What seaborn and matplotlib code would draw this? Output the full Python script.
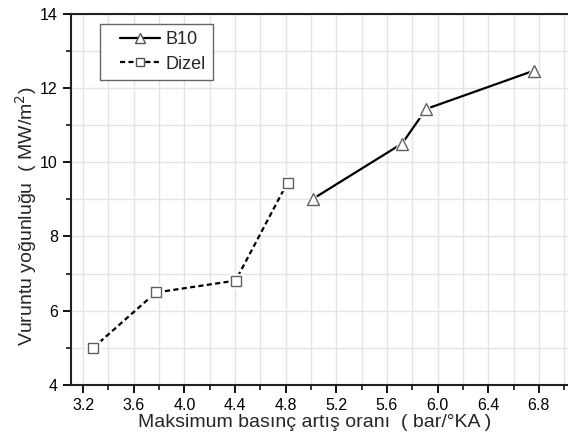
import matplotlib
matplotlib.use("Agg")
import matplotlib.pyplot as plt
import seaborn as sns
import pandas as pd
from matplotlib.ticker import MultipleLocator
from matplotlib.lines import Line2D
from matplotlib.legend_handler import HandlerLine2D

b10_x = [5.02, 5.72, 5.91, 6.76]
b10_y = [9.02, 10.50, 11.43, 12.46]
dizel_x = [3.28, 3.775, 4.405, 4.815]
dizel_y = [5.00, 6.49, 6.81, 9.45]

sns.set_theme(style="ticks")
plt.rcParams['font.family'] = ['Liberation Sans', 'DejaVu Sans']

fig = plt.figure(figsize=(5.68, 4.36), dpi=100)
ax = fig.add_axes([0.125, 0.117, 0.875, 0.852])

df_b = pd.DataFrame({"x": b10_x, "y": b10_y})
df_d = pd.DataFrame({"x": dizel_x, "y": dizel_y})

LW = 1.6
DASH = (0, (2.3, 1.5))
sns.lineplot(data=df_b, x="x", y="y", ax=ax, color="black", lw=LW, sort=False, zorder=3)
sns.lineplot(data=df_d, x="x", y="y", ax=ax, color="black", lw=LW, ls=DASH, sort=False, zorder=3)
# white halo to create gaps around markers
ax.plot(b10_x, b10_y, ls="none", marker="^", ms=12, mfc="white", mec="white", zorder=4)
ax.plot(dizel_x, dizel_y, ls="none", marker="s", ms=10.5, mfc="white", mec="white", zorder=4)
ax.plot(b10_x, b10_y, ls="none", marker="^", ms=8.5, mfc="white", mec="#606060", mew=1.0, zorder=5)
ax.plot(dizel_x, dizel_y, ls="none", marker="s", ms=6.5, mfc="white", mec="#606060", mew=1.0, zorder=5)

ax.set_xlim(3.105, 7.03)
ax.set_ylim(4, 14)
ax.xaxis.set_minor_locator(MultipleLocator(0.2))
ax.yaxis.set_major_locator(MultipleLocator(2))
ax.yaxis.set_minor_locator(MultipleLocator(1))
xtick_vals = [3.2, 3.6, 4.0, 4.4, 4.8, 5.2, 5.6, 6.0, 6.4, 6.8]
xtick_labels = ["3.2", "3.6", "4.0", "4.4", "4.8", "5.2", "5.6", "6.0", "6.4", "6.8"]
ax.set_xticks(xtick_vals)
ax.set_xticklabels(xtick_labels)
ax.grid(True, which="both", color="#e4e4e4", lw=1.0)
ax.set_axisbelow(True)
ax.tick_params(axis="both", which="major", direction="out", length=6, width=1.3, labelsize=11.5, colors="black", pad=3.5)
ax.tick_params(axis="both", which="minor", direction="out", length=3.5, width=1.3)
for s in ["left", "bottom", "top"]:
    ax.spines[s].set_linewidth(1.5)
    ax.spines[s].set_color("#222222")
ax.spines["right"].set_visible(False)

ax.set_xlabel("Maksimum basınç artış oranı  ( bar/°KA )", fontsize=14, labelpad=1)
ax.xaxis.set_label_coords(0.491, -0.078)
ax.set_ylabel("Vuruntu yoğunluğu  ( MW/m$^2$)", fontsize=14)
ax.yaxis.set_label_coords(-0.064, 0.455)


class ShiftHandler(HandlerLine2D):
    def __init__(self, shift, **kw):
        super().__init__(**kw)
        self.shift = shift

    def create_artists(self, legend, orig_handle, xdescent, ydescent, width, height, fontsize, trans):
        return super().create_artists(legend, orig_handle, xdescent - self.shift, ydescent,
                                      width - self.shift, height, fontsize, trans)


h1 = Line2D([0], [0], color="black", lw=LW, marker="^", ms=7, mfc="white", mec="#555555", mew=1.0)
h2 = Line2D([0], [0], color="black", lw=LW, ls=DASH, marker="s", ms=5.5, mfc="white", mec="#555555", mew=1.0)
leg = ax.legend([h1, h2], ["B10", "Dizel"], loc="upper left", bbox_to_anchor=(0.058, 0.9725),
                borderaxespad=0, fontsize=13, frameon=True, fancybox=False, edgecolor="#666666", framealpha=1,
                handlelength=2.9, handletextpad=0.3, borderpad=0.42, labelspacing=0.4,
                handler_map={h1: ShiftHandler(9), h2: ShiftHandler(9)})
leg.get_frame().set_linewidth(1.0)

fig.savefig("out.png", dpi=100)
